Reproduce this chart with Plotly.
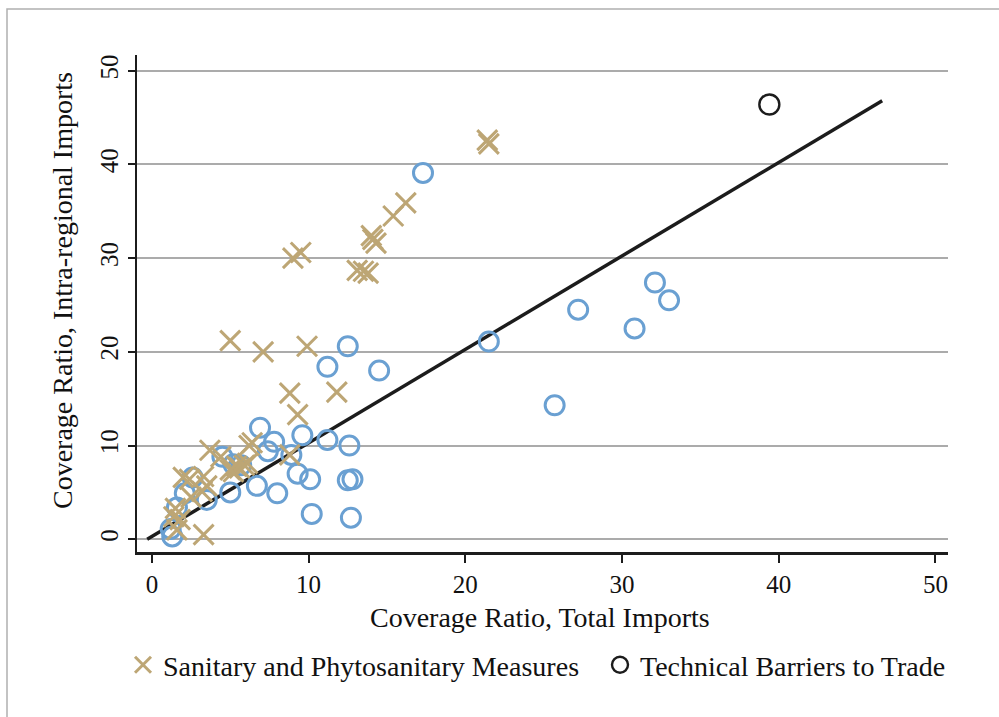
import plotly.graph_objects as go

# Sanitary and Phytosanitary Measures (coverage ratios, %)
sps_total = [21.4, 21.5, 16.2, 15.4, 14.0, 14.3, 14.1, 13.5, 13.8, 13.1, 9.5, 9.0,
             5.0, 7.1, 9.9, 8.8, 11.8, 9.3, 3.7, 6.4, 6.2, 8.8, 2.0, 2.4, 3.3, 3.2,
             3.5, 5.4, 5.6, 5.2, 6.1, 5.9, 5.0, 4.4, 1.5, 1.4, 1.8, 1.6, 3.3, 2.5]
sps_intra = [42.6, 42.2, 35.9, 34.5, 32.4, 31.6, 32.0, 28.6, 28.4, 28.7, 30.6, 30.0,
             21.2, 20.0, 20.6, 15.6, 15.7, 13.3, 9.5, 10.3, 10.0, 9.0, 6.6, 6.4, 6.7, 5.1,
             5.7, 7.8, 7.6, 7.2, 8.1, 7.9, 7.4, 8.8, 3.3, 2.4, 2.1, 1.0, 0.5, 4.5]

# Technical Barriers to Trade, by product group
tbt_total = [17.3, 12.5, 21.5, 11.2, 14.5, 27.2, 30.8, 32.1, 33.0, 25.7,
             6.9, 7.8, 7.4, 9.6, 11.2, 12.6, 8.9, 9.3, 10.1, 12.5, 12.8, 8.0, 6.7, 10.2, 12.7,
             5.0, 5.2, 4.5, 5.7, 3.5, 2.6, 2.1, 1.6, 1.2, 1.3]
tbt_intra = [39.1, 20.6, 21.1, 18.4, 18.0, 24.5, 22.5, 27.4, 25.5, 14.3,
             11.9, 10.4, 9.4, 11.1, 10.6, 10.0, 9.0, 7.0, 6.4, 6.3, 6.4, 4.9, 5.7, 2.7, 2.3,
             5.0, 8.0, 8.8, 7.9, 4.2, 6.6, 4.9, 3.4, 1.1, 0.3]

# Technical Barriers to Trade, all products
tbt_all_total = [39.4]
tbt_all_intra = [46.4]

# Reference line
ref_x = [-0.3, 46.6]
ref_y = [0.0, 46.8]

x_ticks = [0, 10, 20, 30, 40, 50]
y_ticks = [0, 10, 20, 30, 40, 50]

SERIF = "Liberation Serif, Times New Roman, serif"
TAN = "#bda675"
BLUE = "#6aa0d2"
INK = "#1c1c1c"

fig = go.Figure()

fig.add_trace(go.Scatter(
    x=ref_x, y=ref_y, mode="lines",
    line=dict(color=INK, width=3.5), showlegend=False, hoverinfo="skip"))

fig.add_trace(go.Scatter(
    x=tbt_total, y=tbt_intra, mode="markers", showlegend=False,
    marker=dict(symbol="circle-open", size=19, color=BLUE, line=dict(width=3, color=BLUE))))

fig.add_trace(go.Scatter(
    x=sps_total, y=sps_intra, mode="markers",
    name="Sanitary and Phytosanitary Measures", legend="legend",
    marker=dict(symbol="x-thin", size=20, color=TAN, line=dict(width=3, color=TAN))))

fig.add_trace(go.Scatter(
    x=tbt_all_total, y=tbt_all_intra, mode="markers",
    name="Technical Barriers to Trade", legend="legend2",
    marker=dict(symbol="circle-open", size=20, color=INK, line=dict(width=2.4, color=INK))))

L, R, T, B = 137, 51, 55, 165
W, H = 999, 717
pw, ph = W - L - R, H - T - B

def px_x(p):
    return (p - L) / pw

def px_y(p):
    return (H - B - p) / ph

legend_font = dict(family=SERIF, size=28, color="#111111")

fig.update_layout(
    width=W, height=H,
    margin=dict(l=L, r=R, t=T, b=B, pad=0),
    paper_bgcolor="white", plot_bgcolor="white",
    font=dict(family=SERIF, color="#111111"),
    xaxis=dict(
        range=[-0.95, 50.8], tickvals=x_ticks, ticktext=[str(v) for v in x_ticks],
        showgrid=False, zeroline=False, showline=True, linecolor=INK, linewidth=3,
        ticks="outside", ticklen=8, tickwidth=2, tickcolor=INK,
        tickfont=dict(family=SERIF, size=25, color="#111111"),
    ),
    yaxis=dict(
        range=[-1.36, 51.68], tickvals=y_ticks, ticktext=[str(v) for v in y_ticks],
        showgrid=True, gridcolor="#ababab", gridwidth=1.6, zeroline=False,
        showline=True, linecolor=INK, linewidth=2.2,
        ticks="outside", ticklen=7, tickwidth=2, tickcolor=INK, tickangle=-90,
        tickfont=dict(family=SERIF, size=25, color="#111111"),
    ),
    legend=dict(
        orientation="h", x=px_x(123), xanchor="left", y=px_y(665), yanchor="middle",
        font=legend_font, bgcolor="rgba(0,0,0,0)",
    ),
    legend2=dict(
        orientation="h", x=px_x(600), xanchor="left", y=px_y(665), yanchor="middle",
        font=legend_font, bgcolor="rgba(0,0,0,0)",
    ),
    annotations=[
        dict(text="Coverage Ratio, Total Imports", x=px_x(540), y=px_y(617),
             xref="paper", yref="paper", showarrow=False, xanchor="center", yanchor="middle",
             font=dict(family=SERIF, size=28, color="#111111")),
        dict(text="Coverage Ratio, Intra-regional Imports", x=px_x(62), y=px_y(291),
             xref="paper", yref="paper", showarrow=False, textangle=-90,
             xanchor="center", yanchor="middle",
             font=dict(family=SERIF, size=28, color="#111111")),
    ],
    shapes=[
        dict(type="rect", xref="paper", yref="paper",
             x0=px_x(7), x1=px_x(1010), y0=px_y(9), y1=px_y(730),
             line=dict(color="#b0b0b0", width=1.5), fillcolor="rgba(0,0,0,0)", layer="below"),
    ],
)

fig.write_html("out.html")
